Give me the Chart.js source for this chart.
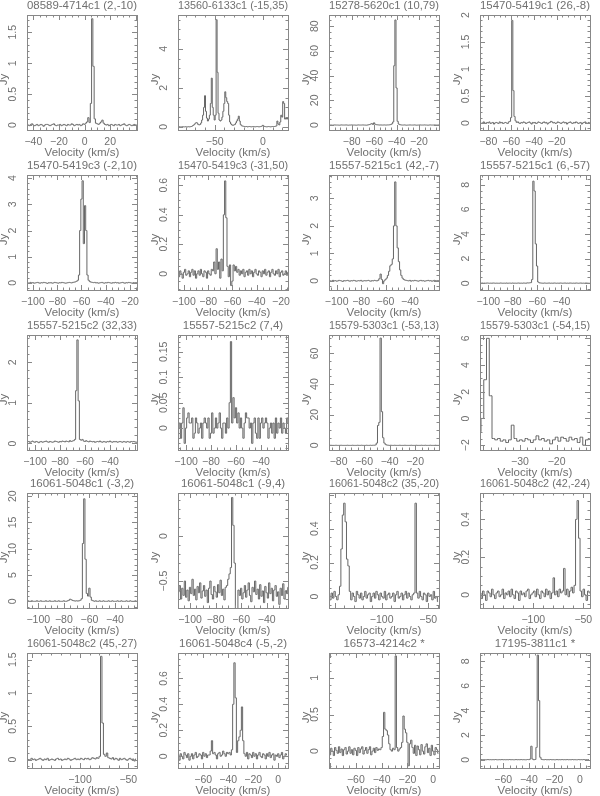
<!DOCTYPE html>
<html>
<head>
<meta charset="utf-8">
<title>Spectra</title>
<script src="https://cdn.jsdelivr.net/npm/chart.js@4.4.1/dist/chart.umd.min.js"></script>
<style>
  body { margin: 0; width: 600px; height: 796px; overflow: hidden; background: #fff; }
  canvas { position: absolute; }
</style>
</head>
<body>
<script>
// panel titles
const titles = [
  '08589-4714c1 (2,-10)', '13560-6133c1 (-15,35)', '15278-5620c1 (10,79)', '15470-5419c1 (26,-8)',
  '15470-5419c3 (-2,10)', '15470-5419c3 (-31,50)', '15557-5215c1 (42,-7)', '15557-5215c1 (6,-57)',
  '15557-5215c2 (32,33)', '15557-5215c2 (7,4)', '15579-5303c1 (-53,13)', '15579-5303c1 (-54,15)',
  '16061-5048c1 (-3,2)', '16061-5048c1 (-9,4)', '16061-5048c2 (35,-20)', '16061-5048c2 (42,-24)',
  '16061-5048c2 (45,-27)', '16061-5048c4 (-5,-2)', '16573-4214c2 *', '17195-3811c1 *'
]

// first channel velocity and channel width (km/s)
const vStart = [-45, -88, -100, -87, -105, -105, -106, -107, -106, -106, -88, -41, -109, -109, -156.5, -153, -154.5, -80, -81, -78]
const vStep = [1, 1, 1, 1, 1, 1, 1, 1, 1, 1, 1, 0.75, 1, 1, 1.5, 1.5, 1.5, 1, 1, 1]

// flux density per channel (Jy)
const p01 = [
  0.01, 0.00, -0.01, 0.01, 0.02, 0.00, -0.01, 0.00, 0.01, -0.01,
  0.00, 0.01, 0.00, -0.02, 0.00, 0.01, 0.01, 0.00, -0.01, 0.00,
  0.01, 0.02, 0.00, -0.01, 0.00, 0.00, 0.01, -0.01, 0.00, 0.01,
  0.00, -0.01, 0.01, 0.00, 0.00, 0.02, 0.01, -0.01, 0.00, 0.01,
  0.00, 0.01, -0.01, 0.00, 0.02, 0.01, 0.03, 0.05, 0.12, 0.04,
  0.35, 1.72, 0.95, 0.10, 0.03, 0.02, 0.01, 0.03, 0.05, 0.08,
  0.03, 0.01, 0.00, 0.01, -0.01, 0.00, 0.01, 0.00, -0.01, 0.01,
  0.00, 0.00, 0.01, -0.01, 0.00, 0.01, 0.02, 0.00, -0.01, 0.00,
  0.01, 0.00, -0.01, 0.00, 0.01, 0.00, 0.00
]
const p02 = [
  0.00, 0.01, 0.00, -0.01, 0.00, 0.01, 0.00, 0.00, 0.01, -0.01,
  0.00, 0.01, 0.00, 0.01, 0.02, 0.05, 0.08, 0.12, 0.18, 0.22,
  0.20, 0.12, 0.10, 0.12, 0.20, 0.35, 0.60, 1.00, 1.60, 0.80,
  0.45, 0.30, 0.40, 0.60, 1.20, 2.50, 1.00, 0.60, 0.35, 0.60,
  5.50, 2.80, 0.70, 0.35, 0.30, 0.35, 0.50, 0.80, 1.20, 1.80,
  1.50, 1.30, 1.20, 0.60, 0.25, 0.15, 0.10, 0.08, 0.10, 0.12,
  0.20, 0.30, 0.40, 0.55, 0.30, 0.12, 0.06, 0.04, 0.03, 0.02,
  0.01, 0.02, 0.00, 0.01, 0.02, 0.01, 0.00, 0.01, 0.02, 0.01,
  0.00, 0.01, 0.02, 0.01, 0.00, 0.01, 0.02, 0.04, 0.08, 0.04,
  0.02, 0.01, 0.00, 0.01, 0.02, 0.01, 0.00, 0.01, 0.02, 0.01,
  0.02, 0.03, 0.05, 0.30, 0.15, 0.10, 0.25, 0.60, 0.50, 1.30,
  1.20, 0.40, 0.45, 0.40, 0.45
]
const p03 = [
  0.1, 0, 0, -0.1, 0, 0.1, 0, 0, 0, -0.1,
  0, 0.1, 0, 0, 0, 0.1, 0, -0.1, 0, 0,
  0.1, 0, 0, 0, -0.1, 0, 0.1, 0, 0, 0,
  0.1, 0, 0, -0.1, 0, 0.2, 0.4, 0.8, 1.2, 0.5,
  1.8, 0.6, 0.3, 0.2, 0.1, 0, 0.1, 0, 0, 0.1,
  0, 0, 0.1, 0.1, 0.2, 0.5, 1.0, 2.5, 48, 85,
  30, 3, 0.8, 0.3, 0.1, 0, 0, 0.1, 0, -0.1,
  0, 0, 0.1, 0, 0, 0, 0.1, 0, -0.1, 0,
  0, 0.1, 0, 0, 0, 0.1, 0, 0, -0.1, 0,
  0.1, 0, 0, 0, 0.1, 0, 0, 0, 0.1
]
const p04 = [
  0.01, -0.01, 0.00, 0.02, 0.00, -0.01, 0.01, 0.00, 0.02, -0.01,
  0.00, 0.01, -0.02, 0.00, 0.01, 0.00, -0.01, 0.02, 0.00, 0.01,
  -0.01, 0.00, 0.01, 0.00, -0.01, 0.02, 0.03, 0.10, 1.90, 0.60,
  0.12, 0.04, 0.01, 0.02, 0.00, -0.01, 0.01, 0.00, 0.02, 0.01,
  -0.01, 0.00, 0.01, 0.02, 0.00, -0.02, 0.01, 0.00, 0.01, -0.01,
  0.00, 0.02, 0.01, 0.00, -0.01, 0.01, 0.02, 0.00, 0.01, -0.02,
  0.00, 0.01, 0.03, 0.02, 0.00, 0.01, -0.01, 0.00, 0.02, 0.01,
  0.00, -0.01, 0.01, 0.02, 0.00, 0.01, -0.02, 0.00, 0.01, 0.02,
  0.00, -0.01, 0.01, 0.00, 0.02, 0.01, -0.01, 0.00, 0.01, -0.02,
  0.00, 0.01, 0.02, 0.00, -0.01, 0.01, 0.00
]
const p05 = [
  0.01, 0.00, -0.01, 0.02, 0.00, 0.01, -0.01, 0.00, 0.01, 0.02,
  0.00, -0.01, 0.01, 0.00, 0.02, 0.01, 0.00, -0.02, 0.01, 0.00,
  0.01, -0.01, 0.00, 0.02, 0.01, 0.00, -0.01, 0.01, 0.00, 0.02,
  0.01, 0.00, -0.01, 0.00, 0.01, 0.02, 0.01, 0.00, 0.02, 0.03,
  0.04, 0.06, 0.10, 0.30, 2.00, 3.20, 3.90, 1.50, 2.95, 2.00,
  0.30, 0.10, 0.05, 0.03, 0.02, 0.01, 0.02, 0.00, 0.01, -0.01,
  0.00, 0.01, 0.02, 0.00, -0.01, 0.01, 0.00, 0.02, 0.01, 0.00,
  -0.01, 0.01, 0.00, 0.02, 0.00, 0.01, -0.01, 0.00, 0.01, 0.02,
  0.00, -0.01, 0.01, 0.00, 0.02, 0.01, 0.00, -0.01, 0.01, 0.00,
  0.01, 0.00
]
const p06 = [
  0.01, -0.02, 0.02, 0.00, -0.03, 0.01, 0.03, -0.01, 0.00, 0.02,
  -0.02, 0.01, 0.03, -0.01, 0.02, -0.03, 0.00, 0.02, -0.01, 0.03,
  0.00, -0.02, 0.02, 0.01, -0.03, 0.02, 0.00, -0.01, 0.03, 0.02,
  0.08, 0.00, 0.17, 0.03, 0.08, -0.03, 0.10, 0.02, 0.40, 0.63,
  0.38, 0.05, -0.02, 0.06, -0.08, -0.05, 0.06, 0.02, 0.05, 0.01,
  0.03, -0.01, 0.02, 0.00, 0.03, -0.02, 0.01, 0.02, -0.01, 0.03,
  0.00, 0.02, -0.02, 0.01, 0.03, 0.00, -0.01, 0.02, 0.01, -0.02,
  0.02, 0.00, 0.03, -0.01, 0.01, 0.02, -0.02, 0.01, 0.03, 0.00,
  -0.01, 0.02, 0.00, 0.03, -0.02, 0.01, 0.02, -0.01, 0.00, 0.02,
  -0.01, 0.01
]
const p07 = [
  0.01, 0.00, -0.01, 0.02, 0.00, 0.01, -0.01, 0.00, 0.02, 0.01,
  0.00, -0.02, 0.01, 0.00, 0.01, 0.02, 0.00, -0.01, 0.01, 0.00,
  0.02, 0.01, -0.01, 0.00, 0.01, 0.00, 0.02, -0.01, 0.00, 0.01,
  0.00, 0.01, 0.02, 0.00, -0.01, 0.01, 0.00, 0.02, 0.01, 0.00,
  0.02, 0.08, 0.25, 0.05, -0.10, 0.00, 0.05, 0.10, 0.20, 0.35,
  0.55, 0.60, 0.80, 2.00, 3.60, 2.00, 1.20, 0.70, 0.40, 0.20,
  0.10, 0.05, 0.03, 0.02, 0.01, 0.00, 0.02, -0.01, 0.01, 0.00,
  0.02, 0.01, 0.00, -0.01, 0.01, 0.02, 0.00, 0.01, -0.01, 0.00,
  0.01, 0.02, 0.00, 0.01, -0.01, 0.00, 0.02, 0.01, 0.00, 0.01,
  0.00
]
const p08 = [
  0.01, 0.00, 0.02, 0.00, 0.01, 0.00, 0.02, 0.01, 0.00, 0.01,
  0.00, 0.02, 0.01, 0.00, 0.01, 0.00, 0.00, 0.02, 0.01, 0.00,
  0.01, 0.00, 0.02, 0.00, 0.01, 0.01, 0.00, 0.02, 0.00, 0.01,
  0.00, 0.01, 0.02, 0.00, 0.01, 0.00, 0.02, 0.01, 0.00, 0.03,
  0.02, 0.03, 0.05, 0.30, 8.30, 7.50, 3.20, 1.40, 0.10, 0.03,
  0.02, 0.01, 0.00, 0.02, 0.01, 0.00, 0.01, 0.02, 0.00, 0.01,
  0.00, 0.02, 0.01, 0.00, 0.01, 0.00, 0.02, 0.01, 0.00, 0.01,
  0.02, 0.00, 0.01, 0.00, 0.02, 0.01, 0.00, 0.01, 0.00, 0.02,
  0.01, 0.00, 0.01, 0.02, 0.00, 0.01, 0.00, 0.02, 0.01, 0.00,
  0.01
]
const p09 = [
  0.04, 0.05, 0.03, 0.04, 0.06, 0.04, 0.03, 0.05, 0.04, 0.02,
  0.04, 0.05, 0.03, 0.04, 0.05, 0.06, 0.04, 0.03, 0.05, 0.04,
  0.03, 0.04, 0.06, 0.05, 0.04, 0.03, 0.05, 0.04, 0.06, 0.05,
  0.04, 0.06, 0.05, 0.04, 0.07, 0.05, 0.06, 0.07, 0.10, 1.30,
  2.55, 1.05, 0.10, 0.08, 0.10, 0.06, 0.05, 0.07, 0.05, 0.04,
  0.06, 0.05, 0.04, 0.05, 0.03, 0.04, 0.05, 0.04, 0.06, 0.04,
  0.03, 0.05, 0.04, 0.03, 0.05, 0.04, 0.06, 0.04, 0.03, 0.05,
  0.04, 0.05, 0.03, 0.04, 0.05, 0.04, 0.03, 0.05, 0.04, 0.03,
  0.05, 0.04, 0.03, 0.05, 0.04, 0.05, 0.04, 0.03, 0.04
]
const p10 = [
  0.00, 0.01, -0.02, 0.01, 0.04, -0.03, 0.00, 0.02, 0.03, 0.01,
  0.01, 0.02, -0.02, -0.01, 0.02, 0.01, -0.01, 0.00, 0.01, -0.02,
  0.01, 0.02, 0.01, 0.00, 0.02, -0.02, -0.01, 0.03, -0.01, 0.00,
  0.02, 0.00, 0.01, 0.03, 0.00, -0.02, 0.01, 0.01, -0.01, 0.02,
  0.00, 0.05, 0.17, 0.01, 0.06, 0.02, 0.04, 0.01, 0.03, 0.00,
  0.02, 0.00, -0.02, 0.01, 0.03, 0.02, 0.02, 0.00, 0.01, -0.03,
  0.01, 0.02, -0.01, -0.02, 0.02, -0.02, 0.01, 0.02, 0.00, 0.01,
  0.02, 0.01, -0.02, 0.00, 0.01, -0.01, 0.01, -0.02, 0.02, -0.01,
  0.01, 0.00, 0.02, -0.01, 0.01, 0.00, -0.01, 0.02, 0.01
]
const p11 = [
  0, 0, 0.1, 0, 0, 0, 0.1, 0, 0, 0,
  0.1, 0, 0, 0, 0, 0.1, 0, 0, 0, 0.1,
  0, 0, 0, 0.1, 0, 0, 0.1, 0, 0, 0,
  0.1, 0, 0, 0.1, 0, 0.1, 0.1, 0.3, 1.5, 13,
  15, 70, 22, 5, 1.5, 0.5, 0.2, 0.1, 0, 0.1,
  0, 0, 0.1, 0, 0, 0, 0.1, 0, 0, 0,
  0.1, 0, 0, 0, 0, 0.1, 0, 0, 0, 0.1,
  0, 0, 0, 0.1, 0, 0, 0.1, 0, 0, 0,
  0.1, 0, 0, 0, 0.1, 0, 0, 0
]
const p12 = [
  -1.0, 0.0, 2.9, 6.0, 1.7, -1.5,
  -1.6, -1.5, -1.7, -1.6, -1.8, -1.6, -0.5, -1.5, -1.7, -1.6,
  -1.7, -1.5, -1.6, -1.8, -1.6, -1.3, -1.6, -1.5, -1.7, -1.6,
  -1.9, -1.6, -1.4, -1.7, -1.4, -1.5, -1.7, -1.4, -1.6, -1.5,
  -1.8, -1.4, -2.0, -1.6, -1.5
]
const p13 = [
  0.0, 0.1, 0.0, 0.0, 0.1, 0.0, 0.0, 0.0, 0.1, 0.0,
  0.0, 0.1, 0.0, 0.0, 0.0, 0.1, 0.0, 0.0, 0.1, 0.0,
  0.0, 0.0, 0.1, 0.0, 0.0, 0.1, 0.0, 0.0, 0.0, 0.1,
  0.0, 0.0, 0.1, 0.2, 0.4, 0.3, 0.15, 0.1, 0.05, 0.1,
  0.05, 0.1, 0.2, 0.5, 11, 19.5, 8, 1.5, 1.0, 2.5,
  0.8, 0.2, 0.1, 0.0, 0.1, 0.0, 0.0, 0.1, 0.0, 0.0,
  0.1, 0.0, 0.0, 0.0, 0.1, 0.0, 0.0, 0.1, 0.0, 0.0,
  0.0, 0.1, 0.0, 0.0, 0.1, 0.0, 0.0, 0.0, 0.1, 0.0,
  0.0, 0.1, 0.0, 0.0, 0.0, 0.1, 0.0
]
const p14 = [
  -0.62, -0.55, -0.70, -0.58, -0.66, -0.50, -0.68, -0.60, -0.72, -0.57,
  -0.64, -0.48, -0.66, -0.59, -0.71, -0.56, -0.63, -0.52, -0.69, -0.61,
  -0.55, -0.67, -0.60, -0.74, -0.58, -0.50, -0.65, -0.70, -0.56, -0.62,
  -0.68, -0.54, -0.63, -0.49, -0.66, -0.59, -0.71, -0.57, -0.55, -0.48,
  -0.42, -0.35, 0.43, 0.12, -0.30, -1.00, -1.00, -0.60, -0.66, -0.58,
  -0.70, -0.63, -0.55, -0.68, -0.60, -0.52, -0.66, -0.73, -0.57, -0.62,
  -0.50, -0.65, -0.59, -0.70, -0.54, -0.67, -0.61, -0.74, -0.56, -0.63,
  -0.69, -0.52, -0.64, -0.58, -0.72, -0.60, -0.55, -0.67, -0.62, -0.76,
  -0.58, -0.66, -0.53, -0.70, -0.61, -0.64, -0.57
]
const p15 = [
  0.01, -0.02, 0.02, -0.01, 0.03, 0.00, -0.02,
  0.01, 0.06, 0.28, 0.48, 0.55, 0.44, 0.22, 0.18, 0.03,
  -0.02, 0.02, 0.00, -0.03, 0.03, 0.01, -0.01, 0.02, -0.02, 0.00,
  0.03, -0.01, 0.01, 0.02, -0.03, 0.00, 0.02, -0.01, 0.03, 0.01,
  -0.02, 0.02, 0.00, -0.01, 0.03, -0.02, 0.01, 0.02, -0.01, 0.00,
  0.02, -0.03, 0.01, 0.03, -0.01, 0.00, 0.02, -0.02, 0.01, 0.03,
  -0.01, 0.02, 0.00, -0.02, 0.01, 0.02,
  0.55,
  0.02, -0.01, 0.03, 0.00, -0.02, 0.02, 0.01, -0.03, 0.02, 0.00,
  0.01, -0.02, 0.03, -0.01, 0.00, -0.03
]
const p16 = [
  0.01, -0.02, 0.02, 0.00, -0.03, 0.02, 0.01, -0.01, 0.03, 0.00,
  -0.02, 0.01, 0.02, -0.01, 0.00, 0.03, -0.02, 0.01, 0.00, 0.02,
  -0.01, 0.03, 0.00, -0.02, 0.02, 0.01, -0.03, 0.02, 0.00, 0.01,
  -0.01, 0.02, 0.03, -0.02, 0.00, 0.01, 0.02, -0.01, 0.03, 0.00,
  -0.02, 0.02, 0.01, -0.01, 0.03, 0.00, 0.02, -0.02, 0.01,
  0.09,
  0.00, 0.02, -0.01, 0.03, 0.01, 0.02,
  0.14,
  0.00, 0.03, -0.01, 0.02, 0.04, 0.01, 0.05,
  0.40, 0.50, 0.30,
  0.02, -0.01, 0.03, 0.00, -0.03, 0.02, 0.01
]
const p17 = [
  0.01, 0.00, -0.01, 0.02, 0.00, 0.01, -0.01, 0.00, 0.01, 0.02,
  0.00, -0.01, 0.01, 0.00, 0.02, -0.01, 0.00, 0.01, 0.00, -0.01,
  0.01, 0.02, 0.00, 0.01, -0.01, 0.00, 0.01, 0.00, 0.02, 0.01,
  -0.01, 0.00, 0.01, 0.02, 0.00, 0.01, 0.00, 0.02, 0.01, 0.00,
  0.02, 0.01, 0.02, 0.00, 0.01, 0.03, 0.02, 0.01, 0.03, 0.02,
  0.05, 1.55, 0.55, 0.08, 0.05, 0.10, 0.03,
  0.02, 0.01, 0.03, 0.00, 0.02, 0.01, -0.01, 0.02, 0.00, 0.01,
  0.02, 0.00, -0.01, 0.01, 0.02, 0.00, 0.01, -0.02, 0.01
]
const p18 = [
  0.01, -0.03, 0.02, 0.00, -0.02, 0.03, 0.01, -0.01, 0.02, -0.03,
  0.00, 0.02, -0.02, 0.01, 0.03, -0.01, 0.00, 0.02, 0.01, -0.02,
  0.03, 0.00, 0.02, -0.01, 0.01, 0.01, 0.04, 0.12, 0.02, 0.03,
  0.01, -0.02, 0.02, 0.03, 0.00, 0.01, 0.04, 0.02, 0.00, 0.03,
  0.02, 0.03, 0.01, 0.05, 0.40, 0.72, 0.45, 0.03, 0.12, 0.15,
  0.20, 0.38, 0.12, 0.02, 0.00, 0.03, -0.02, 0.02, 0.01, -0.01,
  0.03, 0.00, 0.02, -0.02, 0.01, 0.03, 0.00, -0.01, 0.02, 0.01,
  -0.02, 0.02, 0.00, 0.03, -0.01, 0.01, 0.02, -0.03, 0.01, 0.00,
  0.02, -0.01, 0.01, 0.03, -0.02, 0.00, 0.02, 0.01
]
const p19 = [
  0.02, -0.05, 0.04, 0.00, -0.06, 0.05, 0.01, -0.03, 0.06, -0.02,
  0.03, -0.06, 0.02, 0.05, -0.04, 0.00, 0.06, -0.03, 0.02, -0.05,
  0.04, 0.01, -0.06, 0.05, -0.02, 0.03, 0.06, -0.04, 0.01, 0.05,
  -0.03, 0.02, 0.06, -0.05, 0.00, 0.04, -0.02, 0.05, 0.01, 0.03,
  0.02, 0.05, 0.20, 0.53, 0.30, 0.28, 0.22, 0.10, 0.02, 0.00,
  0.04, 0.02, 1.30, 0.05, 0.00, 0.03, 0.05, 0.12, 0.48, 0.30,
  0.25, 0.12, -0.20, 0.10, 0.15, 0.05, -0.03, 0.08, -0.06, 0.07,
  0.02, -0.05, 0.09, 0.00, -0.04, 0.06, 0.10, -0.02, 0.04, -0.06,
  0.08, 0.00, -0.05, 0.05, 0.02, -0.03
]
const p20 = [
  0.00, 0.02, 0.00, 0.01, 0.00, 0.00, 0.02, 0.00, 0.01, 0.00,
  0.01, 0.00, 0.02, 0.00, 0.00, 0.01, 0.00, 0.02, 0.00, 0.01,
  0.00, 0.01, 0.00, 0.02, 0.00, 0.01, 0.00, 0.00, 0.02, 0.00,
  0.01, 0.00, 0.02, 0.00, 0.01, 0.00, 0.00, 0.02, 0.01, 0.05,
  1.10, 0.05, 0.00, 0.02, 1.00, 8.50, 4.80, 0.20, 0.03, 0.01,
  0.00, 0.02, 0.00, 0.01, 0.00, 0.02, 0.00, 0.01, 0.00, 0.00,
  0.02, 0.00, 0.01, 0.00, 0.02, 0.00, 0.01, 0.00, 0.02, 0.00,
  0.01, 0.00, 0.02, 0.00, 0.01, 0.00, 0.00, 0.02, 0.00, 0.01,
  0.00, 0.02, 0.00, 0.01, 0.00, 0.02
]
const spectra = [p01, p02, p03, p04, p05, p06, p07, p08, p09, p10,
                 p11, p12, p13, p14, p15, p16, p17, p18, p19, p20]

// axis ranges
const xMin = [-45, -88, -100.2, -87.3, -104.9, -104.9, -106.3, -106.8, -106.4, -106.4,
              -87.5, -40.9, -108.8, -109.4, -156.5, -153.3, -154.8, -80.2, -80.8, -78.2]
const xMax = [41, 26, -2.2, 9.2, -14.2, -14.2, -16.2, -16.6, -18.4, -18.4,
              -1.3, -10.9, -22.8, -23.3, -38.5, -43.3, -41, 7.8, 4.5, 7.8]
const yMin = [-0.08, -0.16, -4, -0.13, -0.27, -0.11, -0.33, -0.55, -0.16, -0.043,
              -3, -2.36, -1.27, -0.8, -0.068, -0.07, -0.125, -0.09, -0.23, -0.67]
const yMax = [1.78, 5.74, 89, 2.0, 4.12, 0.67, 3.85, 8.8, 2.67, 0.183,
              72, 6.25, 20.6, 0.48, 0.61, 0.54, 1.6, 0.795, 1.34, 8.67]

// tick labels
const xLabels = [
  [-40, -20, 0, 20], [-50, 0], [-80, -60, -40, -20], [-80, -60, -40, -20],
  [-100, -80, -60, -40, -20], [-100, -80, -60, -40, -20], [-100, -80, -60, -40], [-100, -80, -60, -40],
  [-100, -80, -60, -40], [-100, -80, -60, -40], [-80, -60, -40, -20], [-30, -20],
  [-100, -80, -60, -40], [-100, -80, -60, -40], [-100, -50], [-100, -50],
  [-100, -50], [-60, -40, -20, 0], [-60, -40, -20, 0], [-60, -40, -20, 0]
]
const yLabels = [
  [0, 0.5, 1, 1.5], [0, 2, 4], [0, 20, 40, 60, 80], [0, 0.5, 1, 1.5, 2],
  [0, 1, 2, 3, 4], [0, 0.2, 0.4, 0.6], [0, 1, 2, 3], [0, 2, 4, 6, 8],
  [0, 1, 2], [0, 0.05, 0.1, 0.15], [0, 20, 40, 60], [-2, 0, 2, 4, 6],
  [0, 5, 10, 15, 20], [-0.5, 0], [0, 0.2, 0.4], [0, 0.2, 0.4],
  [0, 0.5, 1, 1.5], [0, 0.2, 0.4, 0.6], [0, 0.5, 1], [0, 2, 4, 6, 8]
]
const xMajor = [20, 50, 20, 20, 20, 20, 20, 20, 20, 20, 20, 10, 20, 20, 50, 50, 50, 20, 20, 20]
const xMinor = [5, 10, 5, 5, 5, 5, 5, 5, 5, 5, 5, 2, 5, 5, 10, 10, 10, 5, 5, 5]
const yMajor = [0.5, 2, 20, 0.5, 1, 0.2, 1, 2, 1, 0.05, 20, 2, 5, 0.5, 0.2, 0.2, 0.5, 0.2, 0.5, 2]
const yMinor = [0.1, 0.5, 5, 0.1, 0.2, 0.05, 0.2, 0.5, 0.2, 0.01, 5, 0.5, 1, 0.1, 0.05, 0.05, 0.1, 0.05, 0.1, 0.5]

const boxLeft = [27, 178, 329, 480]
const boxTop = [15, 175, 335, 493, 653]

const textColor = '#707070'
const lineColor = '#666'
const frameColor = '#888'
const tickFont = "'Liberation Sans Narrow', 'Liberation Sans', sans-serif"
const mainFont = "'Liberation Sans', sans-serif"

const fmt = v => String(v).replace('-', '\u2212')

// box with inward ticks on all four sides, rotated y labels
const frame = {
  id: 'frame',
  afterDraw(chart, args, o) {
    const { ctx, chartArea: a } = chart
    const x = chart.scales.x, y = chart.scales.y
    ctx.save()
    ctx.strokeStyle = frameColor
    ctx.lineWidth = 1
    ctx.strokeRect(Math.round(a.left) + 0.5, Math.round(a.top) + 0.5, Math.round(a.width), Math.round(a.height))
    ctx.beginPath()
    for (let k = Math.ceil(x.min / o.xMinor); k * o.xMinor <= x.max; k++) {
      const v = k * o.xMinor
      const major = Math.abs(v / o.xMajor - Math.round(v / o.xMajor)) < 1e-6
      const len = major ? 5 : 2.5
      const px = Math.round(x.getPixelForValue(v)) + 0.5
      ctx.moveTo(px, a.bottom); ctx.lineTo(px, a.bottom - len)
      ctx.moveTo(px, a.top); ctx.lineTo(px, a.top + len)
    }
    for (let k = Math.ceil(y.min / o.yMinor); k * o.yMinor <= y.max; k++) {
      const v = k * o.yMinor
      const major = Math.abs(v / o.yMajor - Math.round(v / o.yMajor)) < 1e-6
      const len = major ? 5 : 2.5
      const py = Math.round(y.getPixelForValue(v)) + 0.5
      ctx.moveTo(a.left, py); ctx.lineTo(a.left + len, py)
      ctx.moveTo(a.right, py); ctx.lineTo(a.right - len, py)
    }
    ctx.stroke()

    ctx.fillStyle = textColor
    ctx.textAlign = 'center'
    ctx.textBaseline = 'middle'
    ctx.font = '10.5px ' + tickFont
    o.yLabels.forEach(v => {
      ctx.save()
      ctx.translate(a.left - 14, y.getPixelForValue(v))
      ctx.rotate(-Math.PI / 2)
      ctx.fillText(fmt(v), 0, 0)
      ctx.restore()
    })
    ctx.font = '11.5px ' + mainFont
    ctx.translate(a.left - 23, (a.top + a.bottom) / 2 + 7)
    ctx.rotate(-Math.PI / 2)
    ctx.fillText('Jy', 0, 0)
    ctx.restore()
  }
}

spectra.forEach((jy, i) => {
  const row = Math.floor(i / 4), col = i % 4
  const cv = document.createElement('canvas')
  cv.width = 146
  cv.height = 160
  cv.style.left = (boxLeft[col] - 27) + 'px'
  cv.style.top = (boxTop[row] - 15) + 'px'
  document.body.appendChild(cv)

  const pts = jy.map((v, k) => ({ x: vStart[i] + k * vStep[i], y: v }))

  new Chart(cv.getContext('2d'), {
    type: 'line',
    data: {
      datasets: [{
        data: pts,
        stepped: 'middle',
        borderColor: lineColor,
        borderWidth: 1,
        pointRadius: 0,
        fill: false
      }]
    },
    options: {
      responsive: false,
      animation: false,
      events: [],
      layout: { padding: { left: 27, right: 9, top: 0, bottom: 0 } },
      scales: {
        x: {
          type: 'linear',
          min: xMin[i],
          max: xMax[i],
          afterBuildTicks: s => { s.ticks = xLabels[i].map(v => ({ value: v })) },
          afterFit: s => { s.height = 30; s.paddingLeft = 0; s.paddingRight = 0 },
          grid: { display: false, drawTicks: false },
          border: { display: false },
          ticks: {
            autoSkip: false, maxRotation: 0, padding: 6,
            color: textColor,
            font: { family: tickFont, size: 10.5 },
            callback: v => fmt(v)
          },
          title: {
            display: true, text: 'Velocity (km/s)', padding: 0,
            color: textColor, font: { family: mainFont, size: 11.5 }
          }
        },
        y: { type: 'linear', display: false, min: yMin[i], max: yMax[i] }
      },
      plugins: {
        legend: { display: false },
        tooltip: { enabled: false },
        title: {
          display: true, text: titles[i],
          color: textColor,
          font: { family: mainFont, size: 11.5, weight: 'normal' },
          padding: { top: -1.5, bottom: 2.7 }
        },
        frame: {
          xMajor: xMajor[i], xMinor: xMinor[i],
          yMajor: yMajor[i], yMinor: yMinor[i],
          yLabels: yLabels[i]
        }
      }
    },
    plugins: [frame]
  })
})
</script>
</body>
</html>
